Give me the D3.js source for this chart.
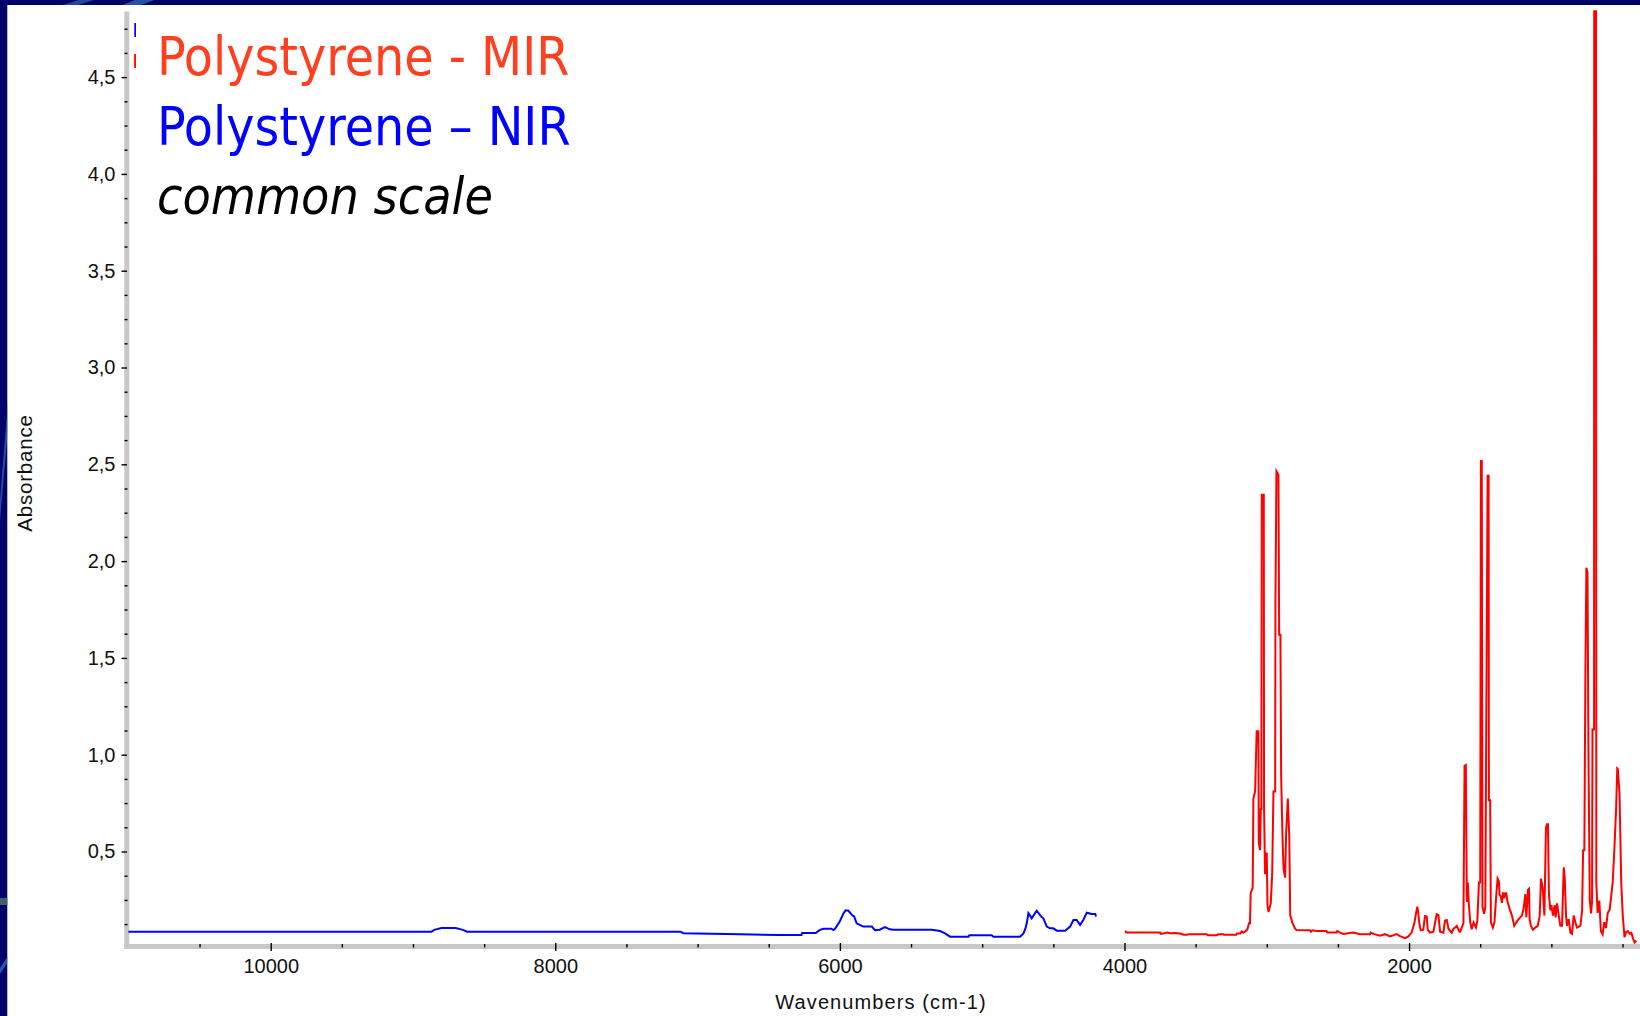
<!DOCTYPE html>
<html>
<head>
<meta charset="utf-8">
<script src="https://cdn.jsdelivr.net/npm/d3@7"></script>
<style>
  html, body { margin: 0; padding: 0; background: #ffffff; }
  svg { display: block; }
</style>
</head>
<body>
<svg id="chart" width="1640" height="1016"></svg>
<script>
// Near-infrared spectrum of polystyrene: [wavenumber (cm-1), absorbance]
const nirSpectrum = [
  [11000, 0.086], [8870, 0.086], [8850, 0.095], [8800, 0.105], [8700, 0.105], [8650, 0.095],
  [8620, 0.086], [7120, 0.086], [7100, 0.078], [6900, 0.075], [6700, 0.072], [6430, 0.069],
  [6270, 0.069], [6265, 0.079], [6170, 0.079], [6140, 0.095], [6115, 0.101], [6060, 0.101],
  [6045, 0.094], [6034, 0.101], [6000, 0.140], [5975, 0.180], [5960, 0.196], [5940, 0.194],
  [5915, 0.172], [5900, 0.165], [5882, 0.129], [5860, 0.121], [5835, 0.112], [5776, 0.112],
  [5753, 0.094], [5720, 0.096], [5683, 0.110], [5650, 0.098], [5624, 0.096], [5355, 0.096],
  [5296, 0.089], [5261, 0.077], [5226, 0.060], [5097, 0.060], [5090, 0.067], [4933, 0.067],
  [4921, 0.060], [4734, 0.060], [4710, 0.077], [4697, 0.100], [4687, 0.129], [4675, 0.181],
  [4665, 0.170], [4652, 0.155], [4630, 0.180], [4617, 0.194], [4593, 0.172], [4580, 0.160],
  [4570, 0.155], [4546, 0.112], [4523, 0.103], [4500, 0.103], [4476, 0.091], [4417, 0.091],
  [4382, 0.112], [4359, 0.146], [4336, 0.146], [4312, 0.121], [4289, 0.146], [4265, 0.184],
  [4230, 0.177], [4205, 0.177], [4200, 0.164]
];

// Mid-infrared spectrum of polystyrene: [wavenumber (cm-1), absorbance]
const mirSpectrum = [
  [3993, 0.091], [3988, 0.081], [3750, 0.081], [3745, 0.075], [3720, 0.078], [3700, 0.081],
  [3680, 0.078], [3640, 0.079], [3600, 0.075], [3586, 0.070], [3560, 0.070], [3550, 0.073],
  [3422, 0.073], [3415, 0.068], [3350, 0.068], [3340, 0.073], [3305, 0.073], [3300, 0.070],
  [3215, 0.070], [3210, 0.076], [3185, 0.076], [3176, 0.087], [3165, 0.081], [3150, 0.087],
  [3135, 0.100], [3125, 0.130], [3118, 0.130], [3113, 0.285], [3099, 0.312], [3094, 0.774],
  [3082, 0.810], [3071, 1.121], [3059, 1.121], [3056, 0.543], [3047, 0.507], [3042, 0.720],
  [3038, 0.720], [3035, 2.343], [3021, 2.343], [3019, 0.720], [3012, 0.383], [3007, 0.490],
  [3000, 0.490], [2995, 0.223], [2988, 0.187], [2972, 0.232], [2962, 0.383], [2953, 0.810],
  [2941, 0.810], [2939, 1.779], [2932, 2.464], [2918, 2.446], [2913, 1.619], [2904, 1.619],
  [2899, 0.890], [2889, 0.561], [2882, 0.410], [2871, 0.365], [2864, 0.596], [2852, 0.774],
  [2842, 0.578], [2835, 0.169], [2819, 0.130], [2800, 0.100], [2791, 0.095], [2697, 0.093],
  [2690, 0.086], [2680, 0.093], [2650, 0.089], [2580, 0.089], [2575, 0.081], [2510, 0.081],
  [2505, 0.089], [2485, 0.081], [2463, 0.074], [2392, 0.081], [2345, 0.073], [2275, 0.073],
  [2270, 0.081], [2245, 0.073], [2205, 0.065], [2169, 0.073], [2134, 0.061], [2087, 0.073],
  [2064, 0.063], [2029, 0.052], [2005, 0.061], [1982, 0.081], [1963, 0.129], [1951, 0.181],
  [1942, 0.215], [1935, 0.181], [1928, 0.129], [1918, 0.093], [1900, 0.096], [1888, 0.167],
  [1876, 0.164], [1869, 0.096], [1853, 0.081], [1829, 0.086], [1806, 0.176], [1794, 0.172],
  [1782, 0.086], [1759, 0.081], [1747, 0.143], [1735, 0.146], [1723, 0.101], [1700, 0.080],
  [1688, 0.101], [1676, 0.107], [1665, 0.115], [1646, 0.086], [1641, 0.086], [1618, 0.129],
  [1610, 0.943], [1601, 0.947], [1594, 0.240], [1587, 0.340], [1580, 0.230], [1570, 0.134],
  [1560, 0.098], [1547, 0.134], [1530, 0.107], [1520, 0.143], [1509, 0.340], [1500, 0.340],
  [1495, 2.517], [1489, 2.517], [1484, 0.214], [1473, 0.178], [1464, 0.214], [1458, 1.100],
  [1448, 2.441], [1441, 2.441], [1439, 0.765], [1430, 0.765], [1425, 0.134], [1411, 0.107],
  [1400, 0.134], [1387, 0.276], [1378, 0.360], [1369, 0.347], [1364, 0.276], [1355, 0.267],
  [1348, 0.235], [1340, 0.289], [1331, 0.258], [1324, 0.285], [1317, 0.285], [1308, 0.240],
  [1294, 0.205], [1277, 0.169], [1261, 0.116], [1247, 0.134], [1230, 0.151], [1207, 0.169],
  [1195, 0.205], [1183, 0.280], [1176, 0.160], [1164, 0.303], [1157, 0.308], [1153, 0.151],
  [1143, 0.116], [1129, 0.095], [1113, 0.107], [1096, 0.116], [1082, 0.169], [1073, 0.360],
  [1061, 0.312], [1049, 0.169], [1038, 0.623], [1031, 0.641], [1024, 0.641], [1017, 0.276],
  [1007, 0.196], [1000, 0.223], [988, 0.169], [977, 0.223], [970, 0.160], [960, 0.232],
  [948, 0.169], [937, 0.116], [925, 0.116], [913, 0.418], [906, 0.365], [897, 0.169],
  [890, 0.116], [878, 0.151], [866, 0.081], [855, 0.075], [843, 0.169], [831, 0.134],
  [820, 0.107], [796, 0.116], [784, 0.196], [777, 0.507], [768, 0.507], [761, 1.406],
  [754, 1.966], [746, 1.940], [739, 0.970], [730, 0.246], [721, 0.180], [714, 0.240],
  [711, 1.130], [700, 1.130], [699, 4.840], [686, 4.840], [684, 0.340], [675, 0.183],
  [663, 0.246], [652, 0.088], [640, 0.072], [628, 0.135], [616, 0.104], [604, 0.183],
  [590, 0.200], [569, 0.340], [557, 0.515], [545, 0.720], [537, 0.930], [533, 0.927],
  [521, 0.800], [509, 0.340], [498, 0.167], [486, 0.057], [474, 0.085], [462, 0.088],
  [450, 0.075], [438, 0.080], [426, 0.050], [415, 0.030], [403, 0.040]
];

const xTickValues = [10000, 8000, 6000, 4000, 2000];
const yTickValues = [0.5, 1.0, 1.5, 2.0, 2.5, 3.0, 3.5, 4.0, 4.5];
const legendLines = [
  { text: "Polystyrene - MIR", color: "#ff4020", italic: false },
  { text: "Polystyrene \u2013 NIR", color: "#0000ff", italic: false },
  { text: "common scale", color: "#000000", italic: true }
];
// Built-in plot legend keys (only their first letters peek out from under the text box)
const plotKeys = [
  { text: "P", color: "#0000ff" },
  { text: "P", color: "#ff0000" }
];
const xTitle = "Wavenumbers (cm-1)";
const yTitle = "Absorbance";

const svg = d3.select("#chart");
const W = 1640, H = 1016;

// Scales: wavenumber axis runs from high (left) to low (right)
const x = d3.scaleLinear().domain([11000, 375]).range([128.4, 1640.3]);
const y = d3.scaleLinear().domain([0, 4.84]).range([948.3, 11.3]);

svg.append("rect").attr("width", W).attr("height", H).attr("fill", "#ffffff");

// Axis bands (light grey frame lines)
const axisGrey = "#c8c8c8";
svg.append("rect").attr("x", 124.3).attr("y", 11.5).attr("width", 5).attr("height", 949 - 11.5).attr("fill", axisGrey);
svg.append("rect").attr("x", 124.3).attr("y", 944).attr("width", W - 124.3).attr("height", 5).attr("fill", axisGrey);

// Y axis: minor ticks every 0.125, labelled ticks every 0.5
const yMinor = d3.range(0.125, 4.76, 0.125).filter(v => Math.abs(v * 2 - Math.round(v * 2)) > 1e-6);
const yAxisMinor = svg.append("g").attr("transform", "translate(127.5,0)")
  .call(d3.axisLeft(y).tickValues(yMinor).tickSize(3).tickFormat(""));
const yAxis = svg.append("g").attr("transform", "translate(127,0)")
  .call(d3.axisLeft(y).tickValues(yTickValues).tickSize(5.5).tickPadding(6)
    .tickFormat(d => d.toFixed(1).replace(".", ",")));

// X axis: minor ticks every 500, labelled ticks every 2000
const xMinor = d3.range(500, 10501, 500).filter(v => v % 2000 !== 0);
const xAxisMinor = svg.append("g").attr("transform", "translate(0,944)")
  .call(d3.axisBottom(x).tickValues(xMinor).tickSize(3.5).tickFormat(""));
const xAxis = svg.append("g").attr("transform", "translate(0,943)")
  .call(d3.axisBottom(x).tickValues(xTickValues).tickSize(8).tickPadding(8)
    .tickFormat(d => String(d)));

[yAxisMinor, yAxis, xAxisMinor, xAxis].forEach(g => {
  g.select(".domain").remove();
  g.selectAll(".tick line").attr("stroke", "#000").attr("stroke-width", 1.4);
  g.selectAll(".tick text")
    .attr("fill", "#111")
    .style("font-family", "'Liberation Sans', Arial, sans-serif")
    .style("font-size", "20px");
});

// Axis titles
svg.append("text")
  .attr("transform", "translate(32,473) rotate(-90)")
  .attr("text-anchor", "middle")
  .style("font-family", "'Liberation Sans', Arial, sans-serif")
  .style("font-size", "20.5px")
  .style("letter-spacing", "0.8px")
  .attr("fill", "#111")
  .text(yTitle);

svg.append("text")
  .attr("x", 881).attr("y", 1009)
  .attr("text-anchor", "middle")
  .style("font-family", "'Liberation Sans', Arial, sans-serif")
  .style("font-size", "20px")
  .style("letter-spacing", "1.1px")
  .attr("fill", "#111")
  .text(xTitle);

// Spectra
const line = d3.line().x(d => x(d[0])).y(d => y(d[1]));
svg.append("path").datum(nirSpectrum)
  .attr("d", line).attr("fill", "none").attr("stroke", "#0000ff")
  .attr("stroke-width", 2).attr("stroke-linejoin", "miter");
svg.append("path").datum(mirSpectrum)
  .attr("d", line).attr("fill", "none").attr("stroke", "#ff0000")
  .attr("stroke-width", 2).attr("stroke-linejoin", "miter");

// Plot legend keys, partly covered by the annotation box
svg.append("g")
  .style("font-family", "'Liberation Sans', Arial, sans-serif")
  .style("font-size", "21px")
  .selectAll("text").data(plotKeys).join("text")
  .attr("x", 132.5)
  .attr("y", (d, i) => 36.5 + i * 31)
  .attr("fill", d => d.color)
  .text(d => d.text);

// Annotation text box
svg.append("rect").attr("x", 136).attr("y", 13).attr("width", 470).attr("height", 212).attr("fill", "#ffffff");
svg.append("g").selectAll("text").data(legendLines).join("text")
  .attr("x", 157)
  .attr("y", (d, i) => 75 + i * 69.5)
  .attr("fill", d => d.color)
  .style("font-family", "'DejaVu Sans Condensed', 'DejaVu Sans', sans-serif")
  .style("font-stretch", "condensed")
  .style("font-style", d => d.italic ? "italic" : "normal")
  .style("font-size", d => d.italic ? "51.5px" : "53px")
  .text(d => d.text);

// Slide background frame (navy edges with lighter streaks)
const frame = svg.append("g");
const clip = svg.append("defs").append("clipPath").attr("id", "frameClip");
clip.append("rect").attr("x", 0).attr("y", 0).attr("width", W).attr("height", 5);
clip.append("rect").attr("x", 0).attr("y", 0).attr("width", 7.3).attr("height", H);
frame.append("rect").attr("x", 0).attr("y", 0).attr("width", W).attr("height", 5).attr("fill", "#020268");
frame.append("rect").attr("x", 0).attr("y", 0).attr("width", 7.3).attr("height", H).attr("fill", "#020268");
const streaks = frame.append("g").attr("clip-path", "url(#frameClip)");
streaks.append("path").attr("d", "M60,6 L85,-2 L100,-2 L75,6 Z").attr("fill", "#2a5aa8").attr("opacity", 0.8);
streaks.append("path").attr("d", "M120,6 L140,-2 L160,-2 L138,6 Z").attr("fill", "#3b6fc0").attr("opacity", 0.7);
streaks.append("path").attr("d", "M0,500 L8,400 L8,430 L0,520 Z").attr("fill", "#2e5db0").attr("opacity", 0.8);
streaks.append("rect").attr("x", 0).attr("y", 898).attr("width", 8).attr("height", 7).attr("fill", "#3d5f6e");
streaks.append("path").attr("d", "M0,968 L8,956 L8,962 L0,974 Z").attr("fill", "#2e6ac0").attr("opacity", 0.8);
</script>
</body>
</html>
